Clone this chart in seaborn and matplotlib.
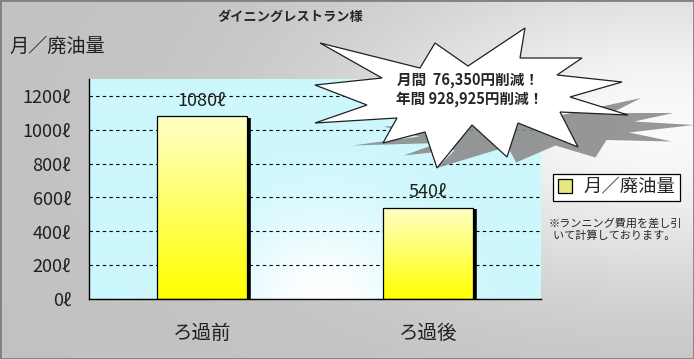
import numpy as np
import matplotlib
matplotlib.use("Agg")
import matplotlib.pyplot as plt
import seaborn as sns
from matplotlib.patches import Polygon, Rectangle

# data
categories = ["ろ過前", "ろ過後"]
oil = [1080, 540]
yticks = [0, 200, 400, 600, 800, 1000, 1200]
ytick_labels = [f"{v}ℓ" for v in yticks]
series_name = "月／廃油量"
title = "ダイニングレストラン様"
callout = ["月間  76,350円削減！", "年間 928,925円削減！"]
note = "※ランニング費用を差し引\n  いて計算しております。"

sns.set_style("white")
plt.rcParams["font.family"] = ["Noto Sans CJK JP", "DejaVu Sans"]

W, H = 694, 359
fig = plt.figure(figsize=(W / 100, H / 100), dpi=100)

def fx(px):
    return px / W

def fy(py):
    return 1 - py / H

# figure background gradient (gray, lighter to the right)
bg = fig.add_axes([0, 0, 1, 1], zorder=-5)
X, Y = np.meshgrid(np.linspace(0, 1, 300), np.linspace(0, 1, 160))
g = 0.76 + 0.22 * np.exp(-(((X - 0.95) / 0.45) ** 2 + ((Y - 0.35) / 0.45) ** 2))
bg.imshow(np.dstack([g, g, g]), extent=[0, 1, 0, 1], aspect="auto", origin="upper")
bg.axis("off")

ax = fig.add_axes([fx(89), fy(299), (541 - 89) / W, (299 - 79) / H])
ax.set_axisbelow(True)

sns.barplot(x=categories, y=oil, color="#f8f870", width=0.4, edgecolor="black",
            linewidth=0.9, ax=ax, zorder=2)

ax.set_xlim(-0.5, 1.5)
ax.set_ylim(0, 1300)

# plot area gradient (cyan with white glow at the bottom centre)
xs, ys = np.meshgrid(np.linspace(0, 1, 200), np.linspace(0, 1, 120))
w = np.exp(-(((xs - 0.52) / 0.22) ** 2 + (ys / 0.4) ** 2))
cyan = np.array([0.80, 0.97, 0.99])
img = cyan[None, None, :] * (1 - w[..., None]) + w[..., None]
ax.imshow(img, extent=[-0.5, 1.5, 0, 1300], origin="lower", aspect="auto", zorder=0.1)

# legend before restyling bars
leg = fig.legend(handles=[ax.containers[0]], labels=[series_name], loc="upper left",
                 bbox_to_anchor=(fx(553), fy(174)), frameon=True, fancybox=False,
                 edgecolor="black", facecolor="white", framealpha=1, fontsize=13.2,
                 handlelength=0.8, handleheight=0.8, handletextpad=0.6,
                 borderpad=0.25, borderaxespad=0)
leg.get_frame().set_linewidth(0.9)

# gradient fill inside the bars
grad = np.linspace(0, 1, 100)[:, None]
top = np.array([1.0, 1.0, 0.78])
bottom = np.array([1.0, 1.0, 0.0])
bar_img = bottom[None, None, :] * (1 - grad[..., None]) + top[None, None, :] * grad[..., None]
bar_img = np.repeat(bar_img, 2, axis=1)
for p in ax.patches:
    x0, w0, h0 = p.get_x(), p.get_width(), p.get_height()
    im = ax.imshow(bar_img, extent=[x0, x0 + w0, 0, h0], origin="lower",
                   aspect="auto", zorder=1.9)
    im.set_clip_path(p)
    p.set_facecolor("none")
    ax.plot([x0 + w0 + 0.006, x0 + w0 + 0.006], [0, h0 - 8], color="black",
            lw=2.6, zorder=2.1, solid_capstyle="butt")

ax.set_xlim(-0.5, 1.5)
ax.set_ylim(0, 1300)

ax.bar_label(ax.containers[0], fmt="{:.0f}ℓ", padding=5, fontsize=13, color="#202020")

ax.set_yticks(yticks, labels=ytick_labels)
ax.tick_params(axis="y", length=0, pad=13, labelsize=13, labelcolor="#202020")
ax.tick_params(axis="x", length=0, pad=17, labelsize=14, labelcolor="#202020")
ax.set_xticks([0.5], minor=True)
ax.tick_params(axis="x", which="minor", direction="in", length=5, width=0.8, color="black")
ax.yaxis.grid(True, color="black", linestyle=(0, (3, 3)), linewidth=0.8)
ax.xaxis.grid(False)
for side in ["top", "right"]:
    ax.spines[side].set_visible(False)
for side in ["left", "bottom"]:
    ax.spines[side].set_color("black")
    ax.spines[side].set_linewidth(1.0)
ax.set_xlabel("")
ax.set_ylabel("")

# texts
fig.text(fx(290), fy(17), title, ha="center", va="center", fontsize=9.5, fontweight="bold")
fig.text(fx(9), fy(46), series_name, ha="left", va="center", fontsize=13.8, color="#202020")
fig.text(fx(548), fy(218), note, ha="left", va="top", fontsize=8, linespacing=1.25)

# starburst callout with perspective shadow anchored at its base
star_px = [(320, 43), (420, 68), (435, 43), (468, 66), (525, 28), (520, 58), (582, 58),
           (557, 75), (622, 82), (570, 97), (628, 115), (560, 112), (578, 147), (518, 123),
           (507, 157), (472, 125), (437, 168), (425, 132), (383, 143), (397, 118),
           (315, 123), (367, 105), (315, 85), (382, 78)]
base = 168
shadow_px = [(x + 0.83 * (base - y), base - 0.5 * (base - y)) for x, y in star_px]
fig.patches.append(Polygon([(fx(x), fy(y)) for x, y in shadow_px], closed=True,
                           transform=fig.transFigure, facecolor="#8c8c8c",
                           edgecolor="none", alpha=0.9, zorder=3))
fig.patches.append(Polygon([(fx(x), fy(y)) for x, y in star_px], closed=True,
                           transform=fig.transFigure, facecolor="white",
                           edgecolor="#202020", linewidth=0.9, zorder=4))
fig.text(fx(468), fy(80), callout[0], ha="center", va="center", fontsize=10.5,
         fontweight="bold", zorder=5)
fig.text(fx(470), fy(99), callout[1], ha="center", va="center", fontsize=10.5,
         fontweight="bold", zorder=5)

# outer frame
fig.patches.append(Rectangle((0, 0), 1, 1, transform=fig.transFigure, fill=False,
                             edgecolor="#808080", linewidth=2, zorder=6))

fig.savefig("out.png", dpi=100)
